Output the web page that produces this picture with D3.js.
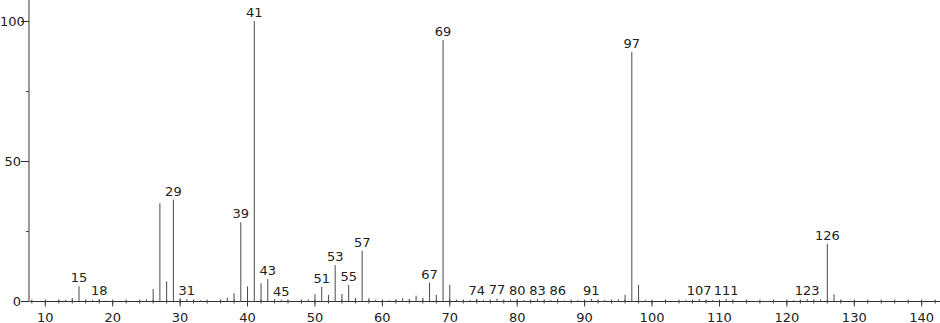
<!DOCTYPE html>
<html>
<head>
<meta charset="utf-8">
<script src="https://cdn.jsdelivr.net/npm/d3@7"></script>
<style>
  html, body { margin: 0; padding: 0; background: #fff; }
  svg { display: block; }
  text { font-family: "DejaVu Sans", sans-serif; fill: #222; }
</style>
</head>
<body>
<svg id="chart" width="940" height="323"></svg>
<script>
// m/z values and relative intensities (%)
const mz = [12,13,14,15,16,17,18,19,24,25,26,27,28,29,30,31,32,33,36,37,38,39,40,41,42,43,44,45,46,48,49,
  50,51,52,53,54,55,56,57,58,59,60,61,62,63,64,65,66,67,68,69,70,71,72,73,74,75,76,77,78,79,80,81,82,83,84,85,86,87,89,
  91,92,93,95,96,97,98,99,105,107,108,109,111,112,121,122,123,124,125,126,127,128];
const intensity = [0.3,0.4,1.0,5.3,0.4,0.3,0.6,0.2,0.2,0.6,4.3,34.9,7.0,36.2,1.0,0.7,0.4,0.3,0.5,1.2,2.8,28.1,5.2,100,6.3,7.9,0.7,0.5,0.3,0.4,0.6,
  2.5,5.1,2.2,12.8,2.5,5.7,1.0,18.0,1.0,0.4,0.2,0.3,0.6,1.0,0.7,1.9,1.2,6.6,2.2,93.2,5.8,0.5,0.3,0.3,0.8,0.3,0.3,0.9,0.3,0.5,0.8,0.4,0.3,0.8,0.3,0.4,0.8,0.2,0.3,
  0.8,0.3,0.4,0.6,2.2,88.9,5.8,0.4,0.3,0.7,0.3,0.4,0.8,0.3,0.3,0.4,0.7,0.3,0.6,20.4,2.4,0.3];
const labeledPeaks = [15,18,29,31,39,41,43,45,51,53,55,57,67,69,74,77,80,83,86,91,97,107,111,123,126];
const xTicks = [10,20,30,40,50,60,70,80,90,100,110,120,130,140];
const xMinorTicks = d3.range(8, 143, 2);
const yTicks = [0,50,100];
const yMinorTicks = [25,75];

const peaks = mz.map((m, i) => ({ mz: m, v: intensity[i] }));

const svg = d3.select("#chart");
const x = d3.scaleLinear().domain([10, 140]).range([45.3, 921.7]);
const y = d3.scaleLinear().domain([0, 100]).range([301, 21]);
const axisY = 301.5, axisXLeft = 21, yAxisX = 29;

// x axis line
svg.append("line").attr("x1", axisXLeft).attr("x2", 940).attr("y1", axisY).attr("y2", axisY)
  .attr("stroke", "#333").attr("stroke-width", 1);
// minor x ticks
svg.append("g").selectAll("line").data(xMinorTicks.filter(d => x(d) > yAxisX + 2 && x(d) < 940)).join("line")
  .attr("x1", d => x(d)).attr("x2", d => x(d)).attr("y1", axisY - 2).attr("y2", axisY + 2)
  .attr("stroke", "#444").attr("stroke-width", 1);
// major x ticks + labels
const xg = svg.append("g");
xg.selectAll("line").data(xTicks).join("line")
  .attr("x1", d => x(d)).attr("x2", d => x(d)).attr("y1", axisY).attr("y2", axisY + 5)
  .attr("stroke", "#333").attr("stroke-width", 1);
xg.selectAll("text").data(xTicks).join("text")
  .attr("x", d => x(d)).attr("y", 321.5).attr("text-anchor", "middle")
  .attr("font-size", 13).text(d => d);

// y axis line
svg.append("line").attr("x1", yAxisX).attr("x2", yAxisX).attr("y1", 0).attr("y2", axisY)
  .attr("stroke", "#9a9a9a").attr("stroke-width", 2);
// y ticks
const yg = svg.append("g");
yg.selectAll("line.maj").data(yTicks).join("line").attr("class", "maj")
  .attr("x1", axisXLeft).attr("x2", yAxisX).attr("y1", d => Math.round(y(d)) + 0.5).attr("y2", d => Math.round(y(d)) + 0.5)
  .attr("stroke", "#333").attr("stroke-width", 1);
yg.selectAll("line.min").data(yMinorTicks).join("line").attr("class", "min")
  .attr("x1", yAxisX - 3).attr("x2", yAxisX).attr("y1", d => Math.round(y(d)) + 0.5).attr("y2", d => Math.round(y(d)) + 0.5)
  .attr("stroke", "#444").attr("stroke-width", 1);
yg.selectAll("text").data(yTicks).join("text")
  .attr("y", d => y(d)).attr("dy", "0.36em").attr("font-size", 13).text(d => d)
  .each(function () {
    const w = this.getComputedTextLength();
    const left = Math.max(0, axisXLeft - w);
    d3.select(this).attr("x", left);
  });

// peaks
svg.append("g").selectAll("line").data(peaks).join("line")
  .attr("x1", d => x(d.mz)).attr("x2", d => x(d.mz))
  .attr("y1", axisY).attr("y2", d => y(d.v))
  .attr("stroke", "#4a4a4a").attr("stroke-width", 1);

// peak labels
const lab = peaks.filter(d => labeledPeaks.includes(d.mz));
svg.append("g").selectAll("text").data(lab).join("text")
  .attr("x", d => x(d.mz)).attr("y", d => y(d.v) - 4)
  .attr("text-anchor", "middle").attr("font-size", 13).text(d => d.mz);
</script>
</body>
</html>
